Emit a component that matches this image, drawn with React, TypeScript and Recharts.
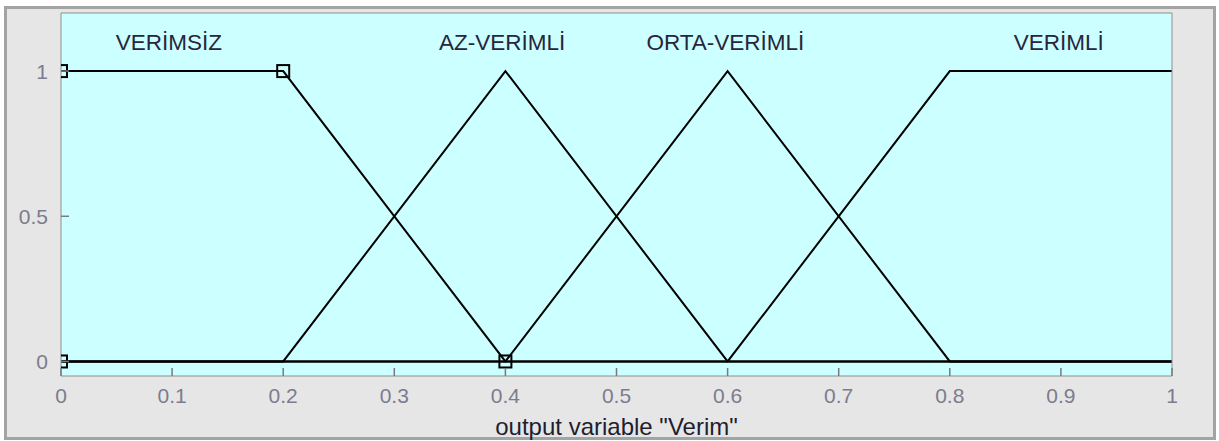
import { LineChart, Line, XAxis, YAxis, CartesianGrid, ReferenceDot } from 'recharts';

const COLOR_PLOT = '#ccffff';
const COLOR_AXIS = '#8e8e8e';
const COLOR_TICK = '#7c7c8e';
const COLOR_LABEL = '#26263c';
const FONT = 'Liberation Sans, Arial, sans-serif';
const TICK_LEN = 8;
const GAP_X = 12;
const GAP_Y = 13;

const xTicks = [0, 0.1, 0.2, 0.3, 0.4, 0.5, 0.6, 0.7, 0.8, 0.9, 1];
const yTicks = [0, 0.5, 1];

// membership functions, each spread over the whole universe
const verimsiz = [
  { x: 0, y: 1 }, { x: 0.2, y: 1 }, { x: 0.4, y: 0 }, { x: 1, y: 0 },
];
const azVerimli = [
  { x: 0, y: 0 }, { x: 0.2, y: 0 }, { x: 0.4, y: 1 }, { x: 0.6, y: 0 }, { x: 1, y: 0 },
];
const ortaVerimli = [
  { x: 0, y: 0 }, { x: 0.4, y: 0 }, { x: 0.6, y: 1 }, { x: 0.8, y: 0 }, { x: 1, y: 0 },
];
const verimli = [
  { x: 0, y: 0 }, { x: 0.6, y: 0 }, { x: 0.8, y: 1 }, { x: 1, y: 1 },
];
// selected MF handles
const handles = [
  { x: 0, y: 0 }, { x: 0, y: 1 }, { x: 0.2, y: 1 }, { x: 0.4, y: 0 },
];

const mfNames = ['VERİMSİZ', 'AZ-VERİMLİ', 'ORTA-VERİMLİ', 'VERİMLİ'];
const labelX = [0.097, 0.397, 0.598, 0.898];
const labelY = 1.1;

const lineProps = { stroke: '#7a7a7a', strokeWidth: 1.5 };
const textProps = { fill: COLOR_TICK, fontSize: 21, fontFamily: FONT };

// MATLAB style ticks: marks point into the axes
const BottomTick = ({ x, y, payload }: any) => (
  <g>
    <line x1={x} x2={x} y1={y - GAP_X} y2={y - GAP_X - TICK_LEN} {...lineProps} />
    <text x={x} y={y} dy="0.71em" textAnchor="middle" {...textProps}>{payload.value}</text>
  </g>
);
const TopTick = ({ x, y }: any) => <line x1={x} x2={x} y1={y} y2={y + TICK_LEN} {...lineProps} />;
const LeftTick = ({ x, y, payload }: any) => (
  <g>
    <line x1={x + GAP_Y} x2={x + GAP_Y + TICK_LEN} y1={y} y2={y} {...lineProps} />
    <text x={x} y={y} dy="0.355em" textAnchor="end" {...textProps}>{payload.value}</text>
  </g>
);
const RightTick = ({ x, y }: any) => <line x1={x - TICK_LEN} x2={x} y1={y} y2={y} {...lineProps} />;

const Square = (props: any) => {
  const { cx, cy } = props;
  if (cx == null || cy == null) return null;
  return <rect x={cx - 6} y={cy - 6} width={12} height={12} fill="none" stroke="#000" strokeWidth={2} />;
};

export default function App() {
  const series = [verimsiz, azVerimli, ortaVerimli, verimli];
  return (
    <div style={{ position: 'absolute', left: 0, top: 0, width: 1219, height: 441, background: '#fff' }}>
      <div
        style={{
          position: 'absolute', left: 4, top: 6, width: 1212, height: 434,
          boxSizing: 'border-box', border: '3px solid #a3a3a3', background: '#e6e6e6',
        }}
      />
      <div style={{ position: 'absolute', left: 0, top: 0 }}>
        <LineChart width={1219} height={441} margin={{ top: 0, right: 0, bottom: 0, left: 0 }}>
          <CartesianGrid fill={COLOR_PLOT} fillOpacity={1} horizontal={false} vertical={false} />
          <XAxis
            xAxisId="b" type="number" dataKey="x" domain={[0, 1]} ticks={xTicks} allowDataOverflow
            height={65} stroke={COLOR_AXIS} tickSize={0} tickMargin={GAP_X} tickLine={false} tick={<BottomTick />}
          />
          <XAxis
            xAxisId="t" orientation="top" type="number" dataKey="x" domain={[0, 1]} ticks={xTicks}
            height={13} stroke={COLOR_AXIS} tickSize={0} tickMargin={0} tickLine={false} tick={<TopTick />}
          />
          <YAxis
            yAxisId="l" type="number" domain={[-0.05, 1.2]} ticks={yTicks} allowDataOverflow
            width={61} stroke={COLOR_AXIS} tickSize={0} tickMargin={GAP_Y} tickLine={false} tick={<LeftTick />}
          />
          <YAxis
            yAxisId="r" orientation="right" type="number" domain={[-0.05, 1.2]} ticks={yTicks}
            width={47} stroke={COLOR_AXIS} tickSize={0} tickMargin={0} tickLine={false} tick={<RightTick />}
          />
          {series.map((d, i) => (
            <Line
              key={mfNames[i]} xAxisId="b" yAxisId="l" data={d} dataKey="y" type="linear"
              stroke="#000" strokeWidth={2} dot={false} isAnimationActive={false}
            />
          ))}
          <Line
            xAxisId="b" yAxisId="l" data={handles} dataKey="y" stroke="none"
            dot={<Square />} isAnimationActive={false}
          />
          {mfNames.map((n, i) => (
            <ReferenceDot
              key={n} xAxisId="b" yAxisId="l" x={labelX[i]} y={labelY} r={0} stroke="none"
              label={{ value: n, position: 'center', fill: COLOR_LABEL, fontSize: 22.5, fontFamily: FONT }}
            />
          ))}
        </LineChart>
      </div>
      <div
        style={{
          position: 'absolute', left: 61, width: 1111, top: 413, textAlign: 'center',
          fontFamily: FONT, fontSize: 24, lineHeight: '28px', color: '#1e1e2e',
        }}
      >
        output variable "Verim"
      </div>
    </div>
  );
}
